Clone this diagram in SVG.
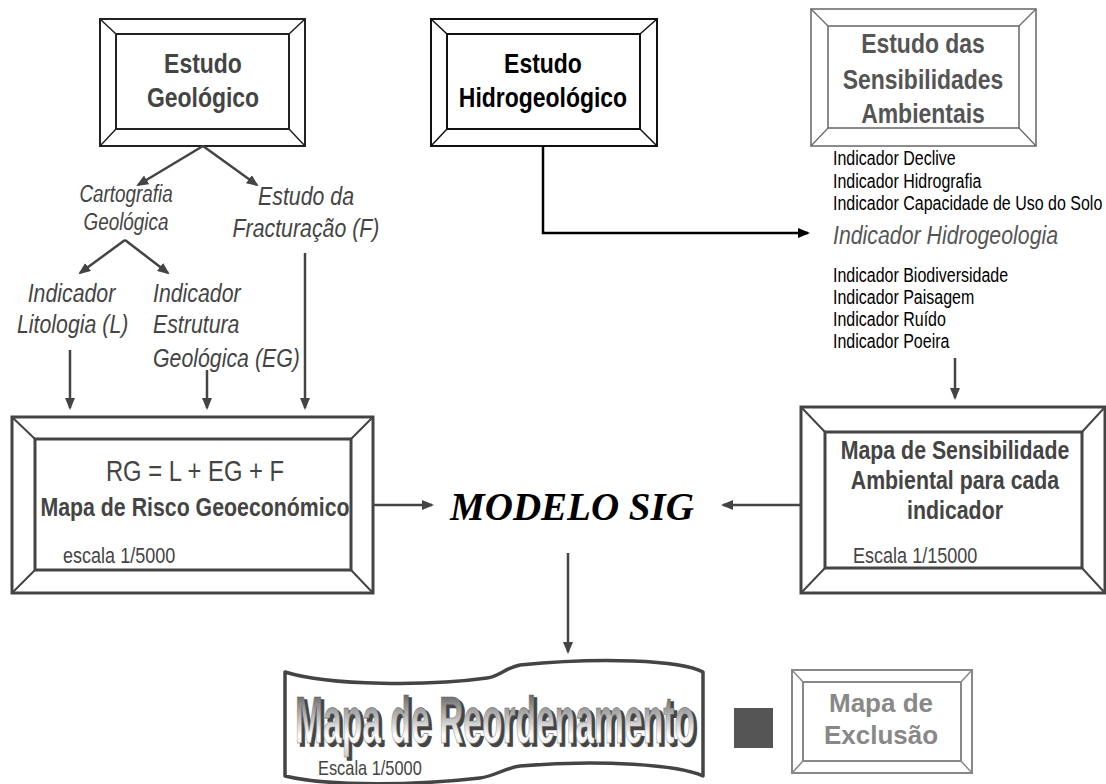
<svg xmlns="http://www.w3.org/2000/svg" width="1106" height="784" viewBox="0 0 1106 784">
<defs>
<style>
.n{font-family:"Liberation Sans",Arial,sans-serif}
.b{font-weight:bold}
.i{font-style:italic}
.c{text-anchor:middle}
.bev{fill:#fff}
.conn{fill:none;stroke:#444;stroke-width:2.5}
.connk{fill:none;stroke:#000;stroke-width:2.5}
</style>
<marker id="ag" viewBox="0 0 12 10" refX="10" refY="5" markerWidth="12" markerHeight="10" markerUnits="userSpaceOnUse" orient="auto"><path d="M0,0 L12,5 L0,10 z" fill="#444"/></marker>
<marker id="ak" viewBox="0 0 12 10" refX="10" refY="5" markerWidth="12" markerHeight="10" markerUnits="userSpaceOnUse" orient="auto"><path d="M0,0 L12,5 L0,10 z" fill="#000"/></marker>
<linearGradient id="wg" x1="0" y1="0" x2="0" y2="1">
<stop offset="0" stop-color="#3a3a3a"/><stop offset="0.72" stop-color="#fff"/><stop offset="1" stop-color="#ccc"/>
</linearGradient>
</defs>
<rect width="1106" height="784" fill="#fff"/>

<g id="estudo-geologico">
<rect x="100" y="19" width="205" height="127" class="bev" stroke="#222" stroke-width="2"/>
<rect x="116" y="34" width="173" height="95" fill="none" stroke="#222" stroke-width="2"/>
<path d="M100,19 L116,34 M305,19 L289,34 M100,146 L116,129 M305,146 L289,129" stroke="#222" stroke-width="1.5"/>
<g transform="matrix(0.82 0 0 1 36.54 0)">
<text class="n b c" x="203" y="73" font-size="28" fill="#444">Estudo</text>
<text class="n b c" x="203" y="107" font-size="28" fill="#444">Geológico</text>
</g>
</g>

<g id="estudo-hidrogeologico">
<rect x="431" y="19" width="226" height="127" class="bev" stroke="#111" stroke-width="2"/>
<rect x="447" y="34" width="193" height="95" fill="none" stroke="#111" stroke-width="2"/>
<path d="M431,19 L447,34 M657,19 L640,34 M431,146 L447,129 M657,146 L640,129" stroke="#111" stroke-width="1.5"/>
<g transform="matrix(0.82 0 0 1 97.74 0)">
<text class="n b c" x="543" y="73" font-size="28" fill="#000">Estudo</text>
<text class="n b c" x="543" y="107" font-size="28" fill="#000">Hidrogeológico</text>
</g>
</g>

<g id="estudo-sensibilidades">
<rect x="811" y="9" width="225" height="137" class="bev" stroke="#666" stroke-width="1.5"/>
<rect x="828" y="26" width="191" height="102" fill="none" stroke="#666" stroke-width="1.5"/>
<path d="M811,9 L828,26 M1036,9 L1019,26 M811,146 L828,128 M1036,146 L1019,128" stroke="#666" stroke-width="1.2"/>
<g transform="matrix(0.82 0 0 1 166.14 0)">
<text class="n b c" x="923" y="53" font-size="28" fill="#555">Estudo das</text>
<text class="n b c" x="923" y="89" font-size="28" fill="#555">Sensibilidades</text>
<text class="n b c" x="923" y="123" font-size="28" fill="#555">Ambientais</text>
</g>
</g>

<g id="indicadores-ambientais">
<g transform="matrix(0.82 0 0 1 149.94 0)">
<text class="n" x="833" y="165" font-size="19.5" fill="#000">Indicador Declive</text>
<text class="n" x="833" y="188" font-size="19.5" fill="#000">Indicador Hidrografia</text>
<text class="n" x="833" y="210" font-size="19.5" fill="#000">Indicador Capacidade de Uso do Solo</text>
<text class="n i" x="833" y="244" font-size="26" fill="#555">Indicador Hidrogeologia</text>
<text class="n" x="833" y="282" font-size="19.5" fill="#000">Indicador Biodiversidade</text>
<text class="n" x="833" y="304" font-size="19.5" fill="#000">Indicador Paisagem</text>
<text class="n" x="833" y="326" font-size="19.5" fill="#000">Indicador Ruído</text>
<text class="n" x="833" y="348" font-size="19.5" fill="#000">Indicador Poeira</text>
</g>
</g>

<g id="cartografia-geologica">
<g transform="matrix(0.82 0 0 1 22.68 0)">
<text class="n i c" x="126" y="202" font-size="23" fill="#444">Cartografia</text>
<text class="n i c" x="126" y="230" font-size="23" fill="#444">Geológica</text>
</g>
</g>

<g id="estudo-fracturacao">
<g transform="matrix(0.82 0 0 1 55.08 0)">
<text class="n i c" x="306" y="205" font-size="26" fill="#444">Estudo da</text>
<text class="n i c" x="306" y="237" font-size="26" fill="#444">Fracturação (F)</text>
</g>
</g>

<g id="indicador-litologia">
<g transform="matrix(0.82 0 0 1 3.06 0)">
<text class="n i" x="30" y="302" font-size="26" fill="#444">Indicador</text>
<text class="n i" x="17" y="333" font-size="26" fill="#444">Litologia (L)</text>
</g>
</g>

<g id="indicador-estrutura">
<g transform="matrix(0.82 0 0 1 27.54 0)">
<text class="n i" x="153" y="302" font-size="26" fill="#444">Indicador</text>
<text class="n i" x="153" y="333" font-size="26" fill="#444">Estrutura</text>
<text class="n i" x="153" y="367" font-size="26" fill="#444">Geológica (EG)</text>
</g>
</g>

<g id="mapa-risco">
<rect x="12" y="417" width="361" height="176" class="bev" stroke="#444" stroke-width="3"/>
<rect x="35" y="439" width="316" height="131" fill="none" stroke="#444" stroke-width="3"/>
<path d="M12,417 L35,439 M373,417 L351,439 M12,593 L35,570 M373,593 L351,570" stroke="#444" stroke-width="2"/>
<g transform="matrix(0.82 0 0 1 35.1 0)">
<text class="n c" x="195" y="481" font-size="29" fill="#444">RG = L + EG + F</text>
<text class="n b c" x="195" y="516" font-size="26" fill="#444">Mapa de Risco Geoeconómico</text>
</g>
<g transform="matrix(0.82 0 0 1 11.34 0)">
<text class="n" x="63" y="563" font-size="22" fill="#444">escala 1/5000</text>
</g>
</g>

<g id="mapa-sensibilidade">
<rect x="801" y="407" width="304" height="186" class="bev" stroke="#444" stroke-width="3"/>
<rect x="825" y="432" width="257" height="136" fill="none" stroke="#444" stroke-width="3"/>
<path d="M801,407 L825,432 M1105,407 L1082,432 M801,593 L825,568 M1105,593 L1082,568" stroke="#444" stroke-width="2"/>
<g transform="matrix(0.82 0 0 1 171.9 0)">
<text class="n b c" x="955" y="459" font-size="26" fill="#444">Mapa de Sensibilidade</text>
<text class="n b c" x="955" y="489" font-size="26" fill="#444">Ambiental para cada</text>
<text class="n b c" x="955" y="519" font-size="26" fill="#444">indicador</text>
</g>
<g transform="matrix(0.82 0 0 1 153.54 0)">
<text class="n" x="853" y="563" font-size="22" fill="#444">Escala 1/15000</text>
</g>
</g>

<g id="modelo-sig">
<text x="572" y="520" font-family="'Liberation Serif','Times New Roman',serif" font-weight="bold" font-style="italic" font-size="39" text-anchor="middle" fill="#000">MODELO SIG</text>
</g>

<g id="mapa-reordenamento">
<path d="M285,672 C330,686 430,686 487,678 C500,676 505,668 520,665 C600,657 680,660 703,672 L703,776 C680,765 600,759 520,766 C505,768 495,776 480,778 C420,785 330,787 285,776 Z" fill="#fff" stroke="#444" stroke-width="3.5" stroke-linejoin="round"/>
<text class="b" x="298" y="746" font-family="'Liberation Sans',Arial,sans-serif" font-size="67" textLength="400" lengthAdjust="spacingAndGlyphs" fill="#444" stroke="#444" stroke-width="1.5">Mapa de Reordenamento</text>
<text class="b" x="295" y="743" font-family="'Liberation Sans',Arial,sans-serif" font-size="67" textLength="400" lengthAdjust="spacingAndGlyphs" fill="url(#wg)" stroke="#666" stroke-width="0.6">Mapa de Reordenamento</text>
<g transform="matrix(0.82 0 0 1 57.24 0)">
<text class="n" x="318" y="775" font-size="20" fill="#444">Escala 1/5000</text>
</g>
</g>

<g id="separador">
<rect x="734" y="708" width="39" height="40" fill="#555"/>
</g>

<g id="mapa-exclusao">
<rect x="792" y="670" width="180" height="103" class="bev" stroke="#888" stroke-width="2"/>
<rect x="803" y="682" width="158" height="79" fill="none" stroke="#888" stroke-width="2"/>
<path d="M792,670 L803,682 M972,670 L961,682 M792,773 L803,761 M972,773 L961,761" stroke="#888" stroke-width="1.5"/>
<text class="n b c" x="881" y="712" font-size="26" fill="#888">Mapa de</text>
<text class="n b c" x="881" y="744" font-size="26" fill="#888">Exclusão</text>
</g>

<g id="connectors">
<line x1="203" y1="146" x2="138" y2="185" class="conn" marker-end="url(#ag)"/>
<line x1="203" y1="146" x2="257" y2="185" class="conn" marker-end="url(#ag)"/>
<line x1="125" y1="240" x2="80" y2="273" class="conn" marker-end="url(#ag)"/>
<line x1="125" y1="240" x2="168" y2="273" class="conn" marker-end="url(#ag)"/>
<line x1="70" y1="350" x2="70" y2="408" class="conn" marker-end="url(#ag)"/>
<line x1="207" y1="370" x2="207" y2="408" class="conn" marker-end="url(#ag)"/>
<line x1="305" y1="253" x2="305" y2="408" class="conn" marker-end="url(#ag)"/>
<polyline points="543,146 543,233 808,233" class="connk" marker-end="url(#ak)"/>
<line x1="955" y1="358" x2="955" y2="398" class="conn" marker-end="url(#ag)"/>
<line x1="373" y1="505" x2="432" y2="505" class="conn" marker-end="url(#ag)"/>
<line x1="801" y1="505" x2="723" y2="505" class="conn" marker-end="url(#ag)"/>
<line x1="568" y1="553" x2="568" y2="652" class="conn" marker-end="url(#ag)"/>
</g>
</svg>
